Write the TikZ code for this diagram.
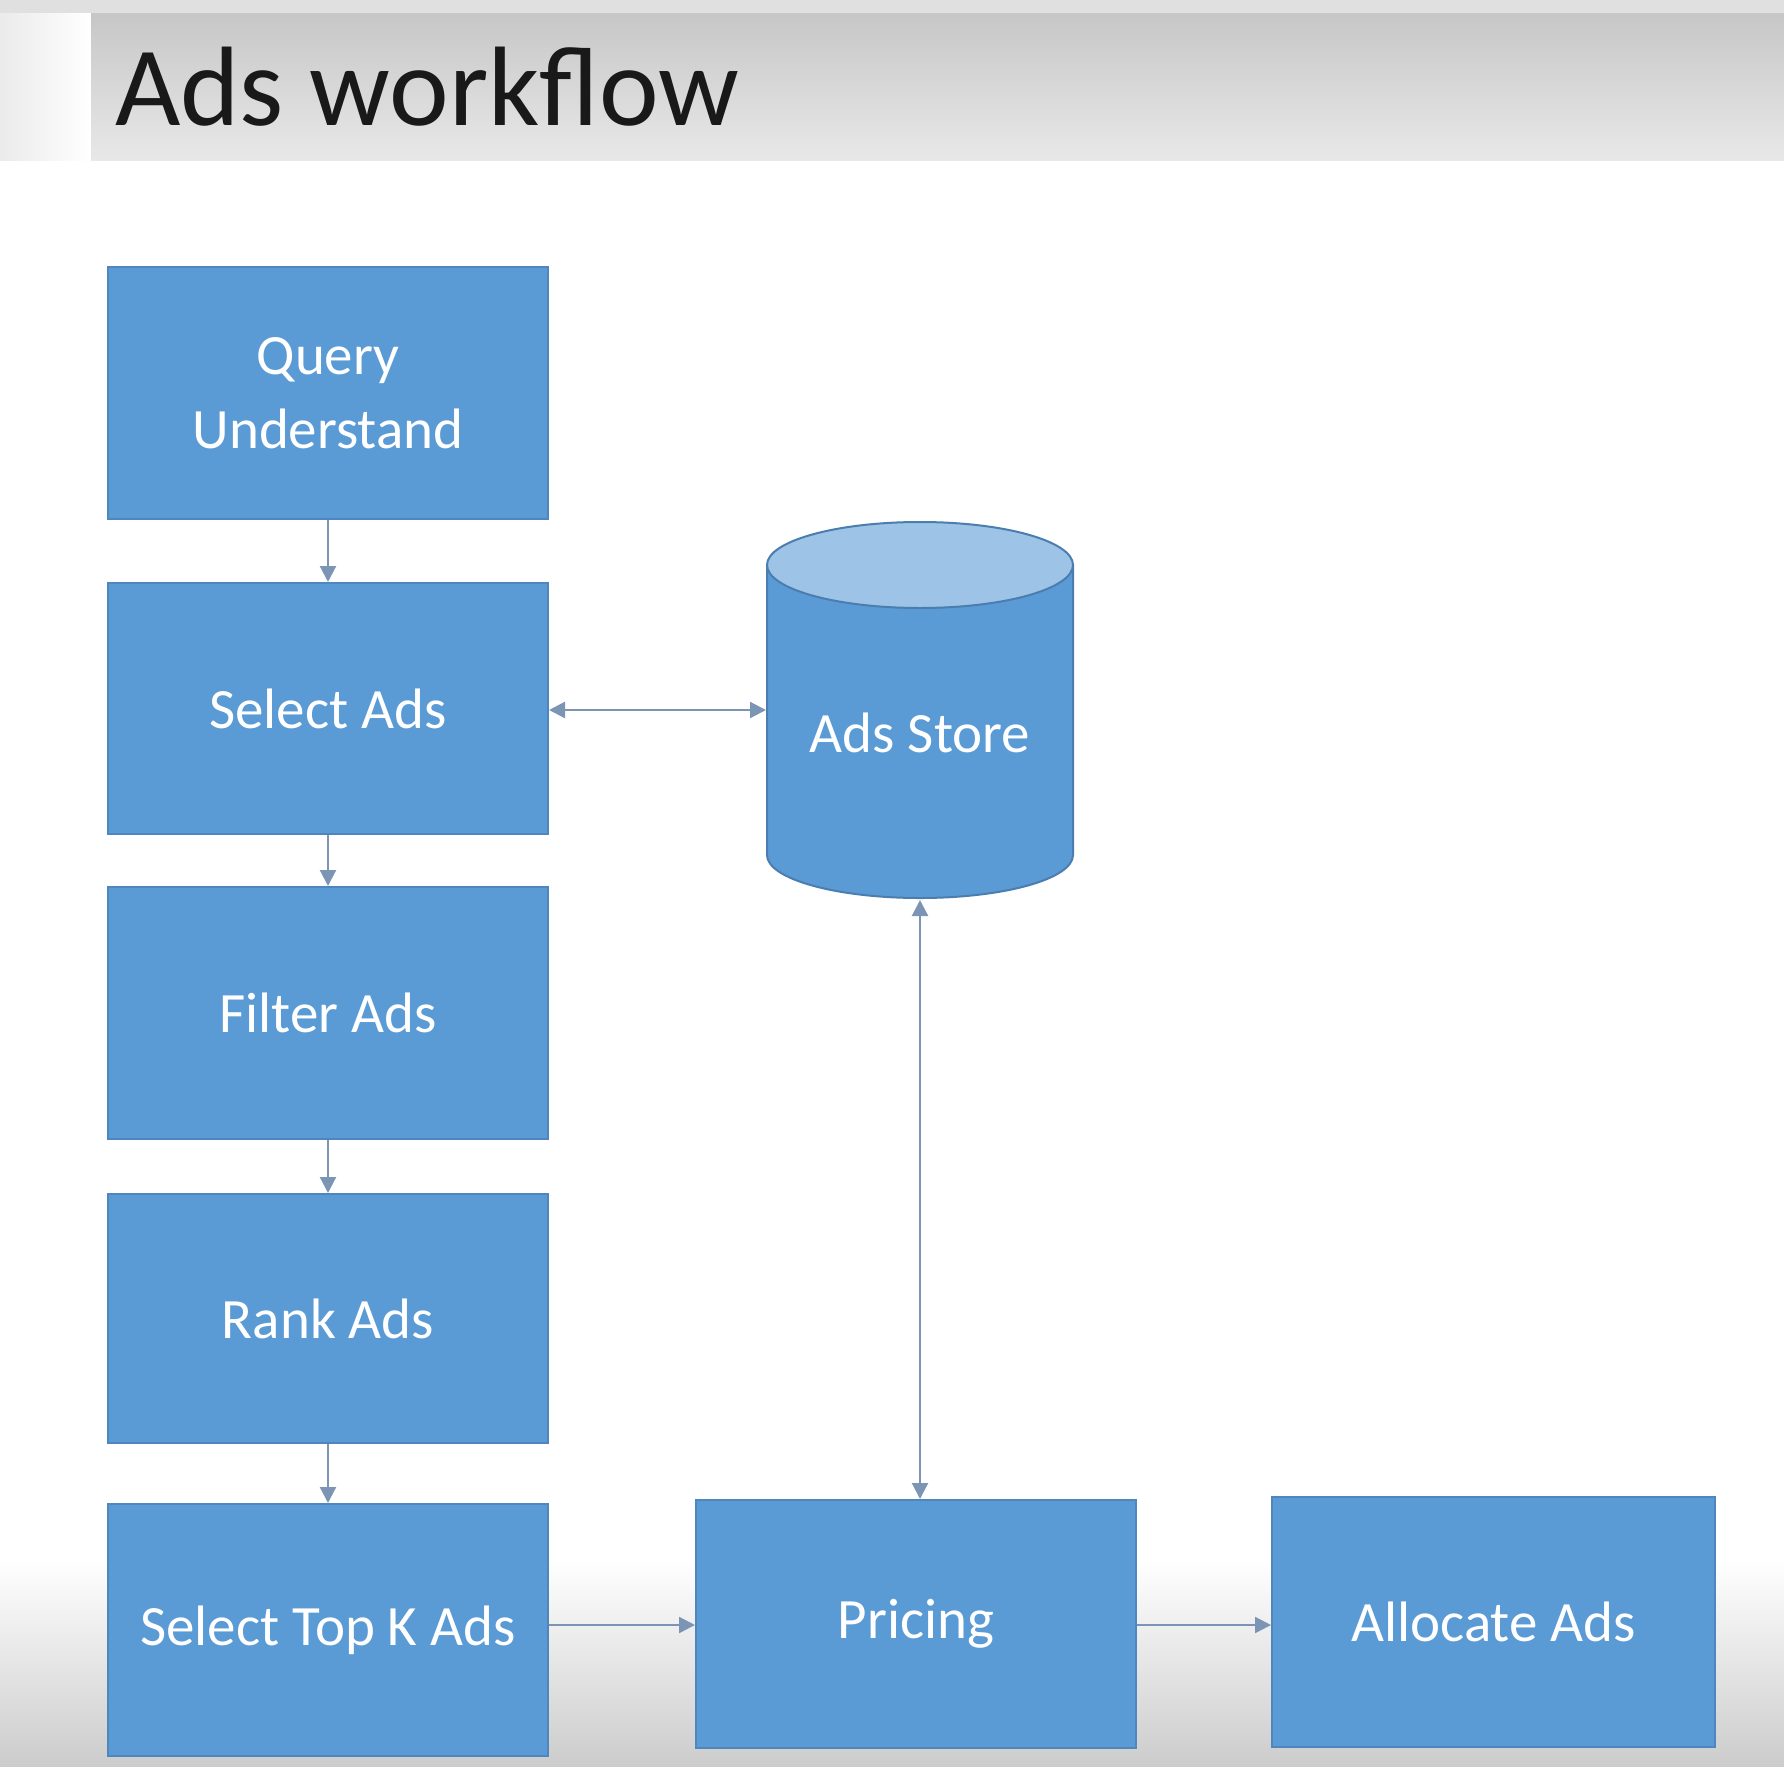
\documentclass[tikz,border=0pt]{standalone}
\usepackage{fontspec}
\setmainfont{Carlito}
\usetikzlibrary{arrows.meta}
\definecolor{boxblue}{HTML}{5B9BD5}
\definecolor{boxedge}{HTML}{4F86BE}
\definecolor{cyltop}{HTML}{9DC3E6}
\definecolor{cyledge}{HTML}{4A7DB0}
\definecolor{arrowc}{HTML}{7C95B4}
\tikzset{
  stepbox/.style={draw=boxedge, line width=2pt, fill=boxblue, text=white, align=center,
    font=\fontsize{57}{74}\selectfont, inner sep=0pt},
  conn/.style={draw=arrowc, line width=2.2pt, -{Triangle[length=16pt,width=16pt]}},
  conn2/.style={draw=arrowc, line width=2.2pt, {Triangle[length=16pt,width=16pt]}-{Triangle[length=16pt,width=16pt]}}
}
\begin{document}
\begin{tikzpicture}[x=1pt,y=-1pt]
\useasboundingbox (0,0) rectangle (1784,1766);
% background
\fill[white] (0,0) rectangle (1784,1766);
\shade[top color=white, bottom color=black!20] (0,1560) rectangle (1784,1766);
\fill[black!12] (0,0) rectangle (1784,14);
\shade[left color=black!8, right color=white] (0,14) rectangle (91,160);
\shade[top color=black!22, bottom color=black!9] (91,14) rectangle (1784,160);
\node[anchor=base west, inner sep=0pt, font=\fontsize{113}{130}\selectfont, text=black!90] (title) at (115,125) {Ads workflow};

% left column
\node[stepbox, minimum width=440pt, minimum height=252pt] (qu) at (328,393) {Query\\Understand};
\node[stepbox, minimum width=440pt, minimum height=251pt] (sa) at (328,708.5) {Select Ads};
\node[stepbox, minimum width=440pt, minimum height=252pt] (fa) at (328,1013) {Filter Ads};
\node[stepbox, minimum width=440pt, minimum height=249pt] (ra) at (328,1318.5) {Rank Ads};
\node[stepbox, minimum width=440pt, minimum height=252pt] (tk) at (328,1630) {Select Top K Ads};
\node[stepbox, minimum width=440pt, minimum height=248pt] (pr) at (916,1624) {Pricing};
\node[stepbox, minimum width=443pt, minimum height=250pt] (al) at (1493.5,1622) {Allocate Ads};

% cylinder
\def\cx{920}\def\rx{153}\def\ry{43}
\filldraw[fill=boxblue, draw=cyledge, line width=2pt]
  (767,565) -- (767,855) arc[start angle=180, end angle=0, x radius=\rx, y radius=\ry]
  -- (1073,565) -- cycle;
\filldraw[fill=cyltop, draw=cyledge, line width=2pt] (\cx,565) ellipse[x radius=\rx, y radius=\ry];
\node[text=white, font=\fontsize{57}{74}\selectfont, inner sep=0pt] (store) at (920,733) {Ads Store};
\coordinate (storeL) at (766,710);
\coordinate (storeB) at (920,900);

% connectors
\draw[conn] (qu.south) -- (sa.north);
\draw[conn] (sa.south) -- (fa.north);
\draw[conn] (fa.south) -- (ra.north);
\draw[conn] (ra.south) -- (tk.north);
\draw[conn2] (sa.east |- storeL) -- (storeL);
\draw[conn2] (storeB) -- (storeB |- pr.north);
\draw[conn] (tk.east |- 0,1625) -- (pr.west |- 0,1625);
\draw[conn] (pr.east |- 0,1625) -- (al.west |- 0,1625);
\end{tikzpicture}
\end{document}
